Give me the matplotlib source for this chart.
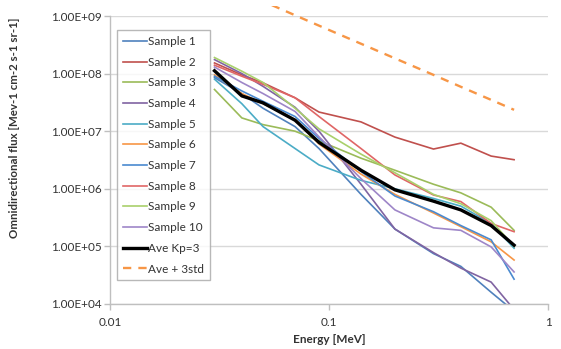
import math
import matplotlib
matplotlib.use("Agg")
import matplotlib.pyplot as plt
from matplotlib.ticker import FixedLocator, FuncFormatter, NullLocator
from matplotlib.transforms import Bbox, TransformedBbox

plt.rcParams['font.family'] = ['Lato', 'DejaVu Sans']

energy = [0.03, 0.04, 0.05, 0.07, 0.09, 0.14, 0.2, 0.3, 0.4, 0.55, 0.7]

sample1 = [8.5e7, 4.5e7, 2.5e7, 1.2e7, 5.0e6, 8.0e5, 2.0e5, 7.5e4, 4.5e4, 1.6e4, 7.5e3]
sample2 = [1.53e8, 9.5e7, 6.9e7, 3.8e7, 2.15e7, 1.45e7, 7.9e6, 4.9e6, 6.2e6, 3.7e6, 3.2e6]
sample3 = [5.3e7, 1.7e7, 1.3e7, 1.0e7, 6.8e6, 3.4e6, 2.1e6, 1.2e6, 8.5e5, 4.8e5, 1.9e5]
sample4 = [1.75e8, 1.0e8, 6.0e7, 2.6e7, 1.0e7, 1.2e6, 2.0e5, 7.8e4, 4.2e4, 2.4e4, 8.0e3]
sample5 = [8.0e7, 3.0e7, 1.2e7, 5.0e6, 2.6e6, 1.4e6, 1.0e6, 6.8e5, 5.0e5, 2.5e5, 9.3e4]
sample6 = [9.5e7, 4.5e7, 3.0e7, 1.6e7, 6.0e6, 1.8e6, 8.0e5, 3.8e5, 2.2e5, 1.2e5, 5.8e4]
sample7 = [9.0e7, 5.0e7, 3.3e7, 1.8e7, 7.5e6, 2.0e6, 7.5e5, 4.0e5, 2.3e5, 1.3e5, 2.7e4]
sample8 = [1.4e8, 9.0e7, 6.5e7, 3.8e7, 1.8e7, 5.0e6, 1.74e6, 7.8e5, 6.0e5, 2.5e5, 1.8e5]
sample9 = [1.9e8, 1.1e8, 7.0e7, 2.5e7, 1.1e7, 4.0e6, 1.9e6, 8.0e5, 5.5e5, 2.8e5, 1.0e5]
sample10 = [1.3e8, 7.0e7, 4.5e7, 2.2e7, 8.0e6, 1.5e6, 4.3e5, 2.1e5, 1.9e5, 9.8e4, 3.6e4]
ave_kp3 = [1.12e8, 4.1e7, 3.1e7, 1.55e7, 6.4e6, 2.1e6, 9.6e5, 6.1e5, 4.3e5, 2.3e5, 1.05e5]
ave_3std = [4.1e9, 2.6e9, 1.8e9, 1.03e9, 6.8e8, 3.3e8, 1.84e8, 9.5e7, 5.9e7, 3.5e7, 2.35e7]

series = [sample1, sample2, sample3, sample4, sample5, sample6, sample7, sample8, sample9, sample10]
labels = ['Sample 1', 'Sample 2', 'Sample 3', 'Sample 4', 'Sample 5',
          'Sample 6', 'Sample 7', 'Sample 8', 'Sample 9', 'Sample 10']
colors = ['#4F81BD', '#C0504D', '#9BBB59', '#8064A2', '#4BACC6',
          '#F79646', '#4A8AD0', '#E06666', '#A9D06B', '#9E86C8']

y_ticks = [1e4, 1e5, 1e6, 1e7, 1e8, 1e9]
x_ticks = [0.01, 0.1, 1]
x_ticklabels = ['0.01', '0.1', '1']

fig = plt.figure(figsize=(5.61, 3.49), dpi=100)
ax = fig.add_axes([110/561, 1-304/349, 438/561, 288/349])

for vals, lab, col in zip(series, labels, colors):
    ax.plot(energy, vals, color=col, lw=1.2, label=lab)
ax.plot(energy, ave_kp3, color='black', lw=2.4, label='Ave Kp=3')
std_line, = ax.plot(energy, ave_3std, color='#F79646', lw=1.7, ls=(0, (3.5, 3.0)),
                    label='Ave + 3std')
std_line.set_clip_box(TransformedBbox(Bbox([[0, 0], [1, 1 - 6/349]]), fig.transFigure))

ax.set_xscale('log')
ax.set_yscale('log')
ax.set_xlim(0.01, 1)
ax.set_ylim(1e4, 1e9)

ax.yaxis.set_major_locator(FixedLocator(y_ticks))
ax.yaxis.set_minor_locator(NullLocator())
ax.yaxis.set_major_formatter(FuncFormatter(lambda v, p: '1.00E+%02d' % round(math.log10(v))))
ax.xaxis.set_major_locator(FixedLocator(x_ticks))
ax.xaxis.set_minor_locator(NullLocator())
ax.set_xticklabels(x_ticklabels)

ax.grid(axis='y', color='#d9d9d9', lw=1.0)
ax.set_axisbelow(True)
for s in ['top', 'right']:
    ax.spines[s].set_visible(False)
for s in ['left', 'bottom']:
    ax.spines[s].set_color('#bfbfbf')
    ax.spines[s].set_linewidth(1.0)
ax.tick_params(axis='both', colors='#bfbfbf', labelcolor='#333333',
               labelsize=8.5, length=4, width=1.0)
ax.tick_params(axis='y', pad=2)
ax.tick_params(axis='x', pad=5)

ax.set_xlabel('Energy [MeV]', fontsize=8.5, fontweight='bold', color='#333333', labelpad=5)
ax.set_ylabel('Omnidirectional flux [Mev-1 cm-2 s-1 sr-1]', fontsize=8.3,
              fontweight='bold', color='#333333')
ax.yaxis.set_label_coords(-0.2055, (304 - 128) / 288)

leg = ax.legend(loc='upper left', bbox_to_anchor=(0.016, 0.951), borderaxespad=0,
                fontsize=8.5, frameon=True, fancybox=False, labelspacing=0.82,
                handlelength=2.0, handletextpad=0.1, borderpad=0.5)
leg.get_frame().set_edgecolor('#a6a6a6')
leg.get_frame().set_linewidth(1.0)
for t in leg.get_texts():
    t.set_color('#333333')

fig.savefig('out.png', dpi=100)
